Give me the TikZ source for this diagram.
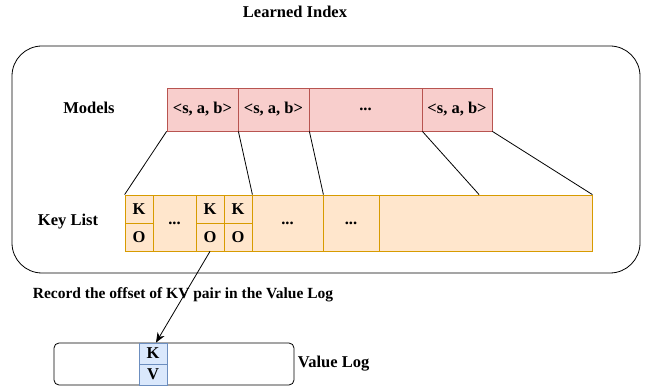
\documentclass[tikz,border=0pt]{standalone}
\usepackage{fontspec}
\setmainfont{Liberation Serif}
\usetikzlibrary{arrows.meta,calc}
\definecolor{modelfill}{HTML}{F8CECC}
\definecolor{modeldraw}{HTML}{B85450}
\definecolor{keyfill}{HTML}{FFE6CC}
\definecolor{keydraw}{HTML}{D79B00}
\definecolor{kvfill}{HTML}{DAE8FC}
\definecolor{kvdraw}{HTML}{6C8EBF}
\tikzset{
  model/.style={draw=modeldraw, fill=modelfill, line width=0.8pt, minimum height=43pt, inner sep=0pt},
  keycell/.style={draw=keydraw, fill=keyfill, line width=0.8pt, minimum width=28pt, minimum height=28pt, inner sep=0pt},
  gapcell/.style={keycell, minimum height=56pt},
  kvcell/.style={draw=kvdraw, fill=kvfill, line width=0.8pt, minimum width=28pt, minimum height=21pt, inner sep=0pt}
}
\begin{document}
\begin{tikzpicture}[x=1pt, y=-1pt, font=\fontsize{16.5}{19}\selectfont\bfseries]
    \useasboundingbox (0,0) rectangle (654,390);
    \node (title) at (295,12) {Learned Index};
    \node[draw, line width=0.8pt, rounded corners=30pt, minimum width=628pt, minimum height=227pt] (index) at (326,159.5) {};

    % models
    \node (mlabel) at (89,108) {Models};
    \node[model, minimum width=71pt] (m1) at (202.5,109.5) {<s, a, b>};
    \node[model, minimum width=71pt] (m2) at (273.5,109.5) {<s, a, b>};
    \node[model, minimum width=113pt] (m3) at (365.5,109.5) {...};
    \node[model, minimum width=70pt] (m4) at (457,109.5) {<s, a, b>};

    % key list
    \node (klabel) at (68,222) {Key List};
    \node[keycell] (k1) at (139,209) {K};
    \node[keycell] (o1) at (139,237) {O};
    \node[gapcell, minimum width=43pt] (g1) at (174.5,223) {...};
    \node[keycell] (k2) at (210,209) {K};
    \node[keycell] (o2) at (210,237) {O};
    \node[keycell] (k3) at (238,209) {K};
    \node[keycell] (o3) at (238,237) {O};
    \node[gapcell, minimum width=71pt] (g2) at (287.5,223) {...};
    \node[gapcell, minimum width=56pt] (g3) at (351,223) {...};
    \node[gapcell, minimum width=213pt] (g4) at (485.5,223) {};
    \coordinate (split) at ($(g4.north west)!0.47!(g4.north east)$);

    \foreach \from / \to in {m1.south west/k1.north west, m1.south east/k3.north east, m2.south east/g2.north east, m3.south east/split, m4.south east/g4.north east}
        \draw[line width=0.8pt] (\from) -- (\to);

    % value log
    \node[draw, line width=0.8pt, rounded corners=5pt, minimum width=240pt, minimum height=42pt] (vlog) at (174,364) {};
    \node[kvcell] (vk) at (153,353.5) {K};
    \node[kvcell] (vv) at (153,374.5) {V};
    \node[anchor=west] (vlabel) at (vlog.east) {Value Log};

    \draw[line width=0.8pt, -{Stealth[length=10pt, width=8pt]}] (o2.south) -- ([xshift=3pt]vk.north);
    \node[font=\fontsize{15.5}{18}\selectfont\bfseries] (rlabel) at (183,295) {Record the offset of KV pair in the Value Log};
\end{tikzpicture}
\end{document}
